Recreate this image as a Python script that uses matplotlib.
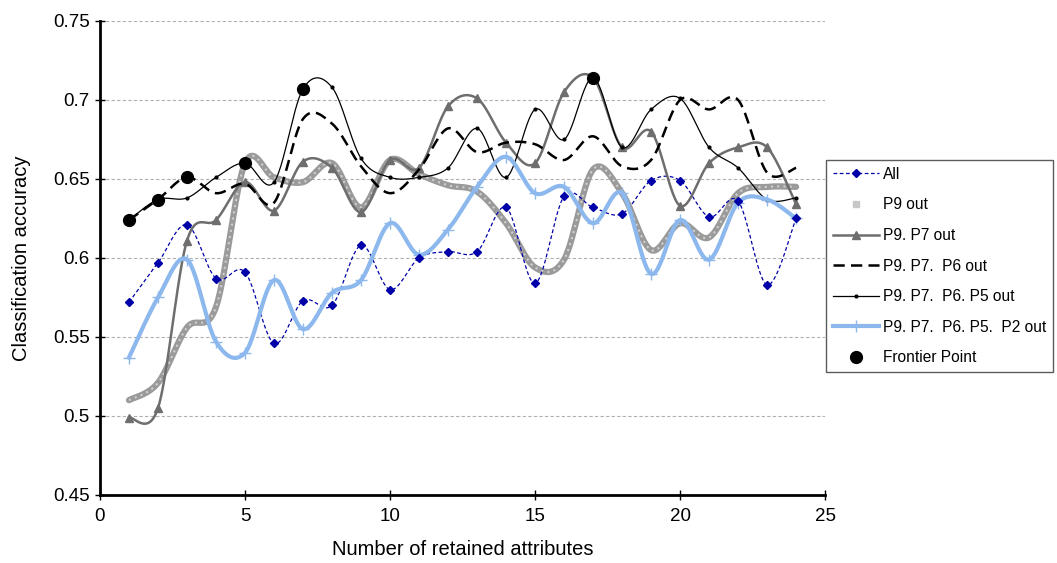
import numpy as np
import matplotlib
matplotlib.use("Agg")
import matplotlib.pyplot as plt
from matplotlib.lines import Line2D

plt.rcParams['font.family'] = ['Liberation Sans', 'DejaVu Sans']

# Data
attrs = list(range(1, 25))
all_attrs = [0.572, 0.597, 0.621, 0.587, 0.591, 0.546, 0.573, 0.570, 0.608, 0.580,
             0.600, 0.604, 0.604, 0.632, 0.584, 0.639, 0.632, 0.628, 0.649, 0.649,
             0.626, 0.636, 0.583, 0.625]
p9_out = [0.510, 0.521, 0.556, 0.569, 0.660, 0.651, 0.648, 0.660, 0.632, 0.662,
          0.653, 0.646, 0.642, 0.622, 0.594, 0.599, 0.656, 0.641, 0.605, 0.622,
          0.613, 0.641, 0.645, 0.645]
p97_out = [0.499, 0.505, 0.611, 0.624, 0.648, 0.630, 0.661, 0.657, 0.629, 0.662,
           0.657, 0.696, 0.701, 0.673, 0.660, 0.705, 0.714, 0.670, 0.680, 0.633,
           0.660, 0.670, 0.670, 0.634]
p976_out = [0.624, 0.637, 0.651, 0.641, 0.647, 0.635, 0.688, 0.685, 0.658, 0.641,
            0.656, 0.682, 0.667, 0.673, 0.672, 0.662, 0.677, 0.658, 0.662, 0.700,
            0.694, 0.700, 0.654, 0.657]
p9765_out = [0.624, 0.637, 0.638, 0.651, 0.660, 0.648, 0.707, 0.708, 0.663, 0.651,
             0.651, 0.657, 0.682, 0.651, 0.694, 0.675, 0.714, 0.670, 0.694, 0.701,
             0.670, 0.657, 0.637, 0.638]
p97652_out = [0.537, 0.575, 0.599, 0.547, 0.540, 0.586, 0.555, 0.578, 0.586, 0.622,
              0.602, 0.618, 0.645, 0.664, 0.641, 0.645, 0.622, 0.641, 0.590, 0.624,
              0.599, 0.635, 0.637, 0.625]
frontier_x = [1, 2, 3, 5, 7, 17]
frontier_y = [0.624, 0.637, 0.651, 0.660, 0.707, 0.714]


def smooth(x, y, n=30):
    # Excel-style smoothed line: Bezier segments with Catmull-Rom control points
    x = np.asarray(x, float)
    y = np.asarray(y, float)
    px = np.concatenate([[x[0]], x, [x[-1]]])
    py = np.concatenate([[y[0]], y, [y[-1]]])
    t = np.linspace(0, 1, n)[:, None]
    xs, ys = [], []
    for i in range(1, len(px) - 2):
        p0 = np.array([px[i], py[i]])
        p3 = np.array([px[i + 1], py[i + 1]])
        c1 = p0 + (np.array([px[i + 1], py[i + 1]]) - np.array([px[i - 1], py[i - 1]])) / 6
        c2 = p3 - (np.array([px[i + 2], py[i + 2]]) - np.array([px[i], py[i]])) / 6
        pts = ((1 - t) ** 3) * p0 + 3 * ((1 - t) ** 2) * t * c1 + 3 * (1 - t) * t ** 2 * c2 + t ** 3 * p3
        xs.append(pts[:, 0])
        ys.append(pts[:, 1])
    return np.concatenate(xs), np.concatenate(ys)


fig = plt.figure(figsize=(10.57, 5.63), dpi=100)
ax = fig.add_axes([0.0946, 0.1208, 0.686, 0.842])

blue = '#0000A8'
lblue = '#8CB8EE'

# All
sx, sy = smooth(attrs, all_attrs)
ax.plot(sx, sy, color=blue, lw=0.9, ls=(0, (3, 2)), zorder=3)
ax.plot(attrs, all_attrs, ls='none', marker='D', ms=4.5, color=blue, zorder=4)

# P9 out
sx, sy = smooth(attrs, p9_out)
ax.plot(sx, sy, color='#9a9a9a', lw=4.5, solid_capstyle='round', zorder=2)
ax.plot(sx, sy, color='#d0d0d0', lw=1.5, ls=(0, (1, 2)), zorder=2)

# P9.P7 out
sx, sy = smooth(attrs, p97_out)
ax.plot(sx, sy, color='#6e6e6e', lw=1.8, zorder=3)
ax.plot(attrs, p97_out, ls='none', marker='^', ms=6, color='#6e6e6e', zorder=3)

# P9.P7.P6 out
sx, sy = smooth(attrs, p976_out)
ax.plot(sx, sy, color='black', lw=1.8, ls=(0, (4.5, 2.5)), zorder=3)

# P9.P7.P6.P5 out
sx, sy = smooth(attrs, p9765_out)
ax.plot(sx, sy, color='black', lw=0.9, zorder=3)
ax.plot(attrs, p9765_out, ls='none', marker='o', ms=2, color='black', zorder=3)

# P9.P7.P6.P5.P2 out
sx, sy = smooth(attrs, p97652_out)
ax.plot(sx, sy, color=lblue, lw=3, zorder=3)
ax.plot(attrs, p97652_out, ls='none', marker='+', ms=8, mew=1, color=lblue, zorder=3)

# Frontier points
ax.plot(frontier_x, frontier_y, ls='none', marker='o', ms=8.5, color='black', zorder=5)

ax.set_xlim(0, 25)
ax.set_ylim(0.45, 0.75)
ax.set_xticks([0, 5, 10, 15, 20, 25])
ax.set_yticks([0.45, 0.5, 0.55, 0.6, 0.65, 0.7, 0.75])
ax.set_yticklabels(['0.45', '0.5', '0.55', '0.6', '0.65', '0.7', '0.75'])
for yv in [0.5, 0.55, 0.6, 0.65, 0.7, 0.75]:
    ax.axhline(yv, color='#b0b0b0', lw=0.8, ls=(0, (3, 2)), zorder=1)
ax.spines['top'].set_visible(False)
ax.spines['right'].set_visible(False)
ax.spines['left'].set_linewidth(2)
ax.spines['bottom'].set_linewidth(2)
ax.tick_params(direction='inout', length=7, width=1, labelsize=13.5)
ax.tick_params(axis='x', pad=6)
ax.tick_params(axis='y', pad=4)
ax.set_xlabel('Number of retained attributes', fontsize=14.5, labelpad=11)
ax.set_ylabel('Classification accuracy', fontsize=14.5, labelpad=16)

# Legend
handles = [
    Line2D([], [], color=blue, lw=0.9, ls=(0, (3, 2)), marker='D', ms=4.5),
    Line2D([], [], color='#c8c8c8', ls='none', marker='s', ms=4),
    Line2D([], [], color='#6e6e6e', lw=1.8, marker='^', ms=6),
    Line2D([], [], color='black', lw=1.8, ls=(0, (4.5, 2.5))),
    Line2D([], [], color='black', lw=0.9, marker='o', ms=2),
    Line2D([], [], color=lblue, lw=3, marker='+', ms=8, mew=1),
    Line2D([], [], color='black', ls='none', marker='o', ms=8.5),
]
labels = ['All', 'P9 out', 'P9. P7 out', 'P9. P7.  P6 out', 'P9. P7.  P6. P5 out',
          'P9. P7.  P6. P5.  P2 out', 'Frontier Point']
leg = fig.legend(handles, labels, loc='upper left', bbox_to_anchor=(0.781, 0.716),
                 fontsize=11.2, frameon=True, fancybox=False, handlelength=3.0,
                 handletextpad=0.25, labelspacing=1.0, borderpad=0.45, borderaxespad=0)
leg.get_frame().set_edgecolor('#333333')
leg.get_frame().set_linewidth(1)

fig.savefig('out.png', dpi=100)
